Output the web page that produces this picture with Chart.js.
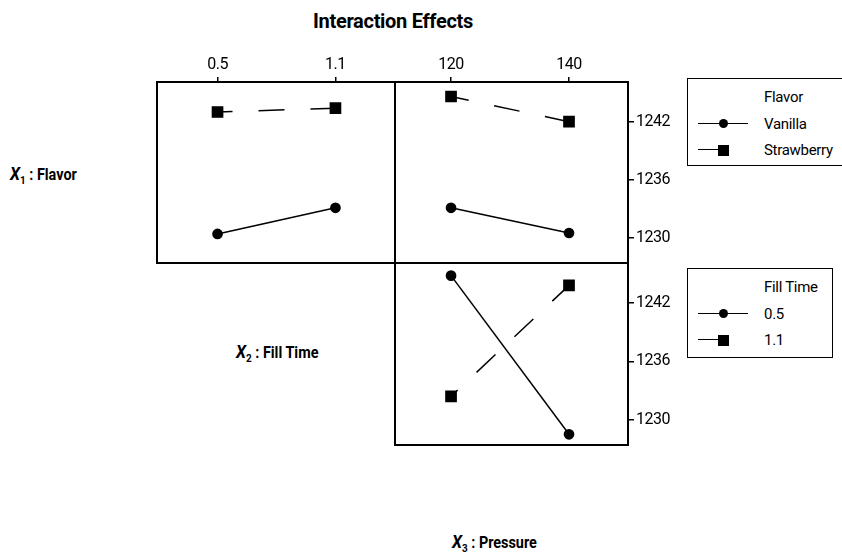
<!DOCTYPE html>
<html>
<head>
<meta charset="utf-8">
<script src="https://cdn.jsdelivr.net/npm/chart.js@4.4.1/dist/chart.umd.min.js"></script>
<style>
  body { margin: 0; background: #fff; font-family: Roboto, 'Liberation Sans', sans-serif; color: #000; }
  #wrap { position: relative; width: 842px; height: 556px; overflow: hidden; }
  canvas { position: absolute; }
  .lbl { position: absolute; font-weight: bold; font-size: 16px; white-space: nowrap; transform: translateY(-50%) scaleX(0.9); transform-origin: left center; }
  .lbl i { font-size: 18px; }
  .lbl sub { font-size: 11px; }
  #title { position: absolute; left: 0; width: 786px; top: 9px; text-align: center; font-weight: bold; font-size: 20px; letter-spacing: -0.3px; }
  .legend { position: absolute; border: 1.5px solid #000; background: #fff; font-size: 15px; letter-spacing: -0.3px; }
  .legend .row { position: absolute; left: 0; height: 20px; white-space: nowrap; }
  .legend .row span { position: absolute; left: 76px; top: 0; line-height: 20px; }
  .legend .ln { position: absolute; top: 9px; height: 0; border-top: 1.5px solid #000; }
  .legend .mk { position: absolute; background: #000; }
</style>
</head>
<body>
<div id="wrap">
  <div id="title">Interaction Effects</div>
  <canvas id="c1" width="240" height="217" style="left:155px;top:48px"></canvas>
  <canvas id="c2" width="285" height="217" style="left:393px;top:48px"></canvas>
  <canvas id="c3" width="285" height="186" style="left:393px;top:261px"></canvas>
  <div class="lbl" style="left:10px;top:175px"><i>X</i><sub>1</sub> : Flavor</div>
  <div class="lbl" style="left:236px;top:353px"><i>X</i><sub>2</sub> : Fill Time</div>
  <div class="lbl" style="left:452px;top:543px"><i>X</i><sub>3</sub> : Pressure</div>
  <div id="leg1" class="legend" style="left:687px;top:78px;width:170px;height:86px"></div>
  <div id="leg2" class="legend" style="left:687px;top:268px;width:144px;height:88px"></div>
</div>
<script>
const fillTimes = [0.5, 1.1];
const pressures = [120, 140];
const flavors = ['Vanilla', 'Strawberry'];
const fillLevels = ['0.5', '1.1'];
const yTicks = [1230, 1236, 1242];

// Panel X1 x X2: flavor lines over fill time
const vanillaByFill = [1230.4, 1233.1];
const strawberryByFill = [1243.0, 1243.4];
// Panel X1 x X3: flavor lines over pressure
const vanillaByPressure = [1233.1, 1230.5];
const strawberryByPressure = [1244.6, 1242.0];
// Panel X2 x X3: fill time lines over pressure
const fill05ByPressure = [1244.8, 1228.5];
const fill11ByPressure = [1232.4, 1243.8];

const FONT = "Roboto, 'Liberation Sans', sans-serif";
const Y_MIN = 1227.4, Y_MAX = 1246.1;

const frame = {
  id: 'frame',
  beforeDraw(chart) {
    chart.ctx.letterSpacing = '-0.5px';
  },
  afterDraw(chart) {
    const { ctx, chartArea: a } = chart;
    ctx.save();
    ctx.lineWidth = 2;
    ctx.strokeStyle = '#000';
    ctx.strokeRect(a.left, a.top, a.right - a.left, a.bottom - a.top);
    ctx.restore();
  }
};

function series(label, xs, ys, solid, dashOffset) {
  return {
    label,
    data: xs.map((x, i) => ({ x, y: ys[i] })),
    borderColor: '#000',
    backgroundColor: '#000',
    borderWidth: 1.5,
    borderDash: solid ? [] : [26, 26],
    borderDashOffset: dashOffset || 0,
    pointStyle: solid ? 'circle' : 'rect',
    pointRadius: solid ? 4.6 : 7.2,
    pointHoverRadius: solid ? 4.6 : 7.2,
    tension: 0
  };
}

function makePanel(id, xs, xMin, xMax, datasets, showX, showY, fmt) {
  return new Chart(document.getElementById(id), {
    type: 'line',
    data: { datasets },
    plugins: [frame],
    options: {
      responsive: false,
      animation: false,
      events: [],
      layout: { autoPadding: false, padding: { left: 2, top: 2, bottom: 2, right: 0 } },
      plugins: { legend: { display: false }, tooltip: { enabled: false } },
      scales: {
        x: {
          type: 'linear',
          position: 'top',
          display: showX,
          min: xMin,
          max: xMax,
          afterBuildTicks: s => { s.ticks = xs.map(v => ({ value: v })); },
          afterFit: s => {
            if (showX) s.height = 32;
            s.paddingLeft = 0; s.paddingRight = 0;
          },
          grid: { drawOnChartArea: false, drawTicks: true, tickLength: 5, color: '#000', lineWidth: 1.5 },
          border: { display: false },
          ticks: { color: '#000', padding: 2, maxRotation: 0, font: { family: FONT, size: 16 }, callback: fmt }
        },
        y: {
          type: 'linear',
          position: 'right',
          display: showY,
          min: Y_MIN,
          max: Y_MAX,
          afterBuildTicks: s => { s.ticks = yTicks.map(v => ({ value: v })); },
          afterFit: s => {
            if (showY) s.width = 50;
            s.paddingTop = 0; s.paddingBottom = 0;
          },
          grid: { drawOnChartArea: false, drawTicks: true, tickLength: 6, color: '#000', lineWidth: 1.5 },
          border: { display: false },
          ticks: { color: '#000', padding: 2, font: { family: FONT, size: 16 }, callback: v => String(v) }
        }
      }
    }
  });
}

makePanel('c1', fillTimes, 0.192, 1.403, [
  series(flavors[0], fillTimes, vanillaByFill, true),
  series(flavors[1], fillTimes, strawberryByFill, false, 11)
], true, false, v => v.toFixed(1));

makePanel('c2', pressures, 110.5, 150, [
  series(flavors[0], pressures, vanillaByPressure, true),
  series(flavors[1], pressures, strawberryByPressure, false, 8)
], true, true, v => String(v));

makePanel('c3', pressures, 110.5, 150, [
  series(fillLevels[0], pressures, fill05ByPressure, true),
  series(fillLevels[1], pressures, fill11ByPressure, false, 17)
], false, true, v => String(v));

function buildLegend(id, title, labels) {
  const box = document.getElementById(id);
  const rows = [title].concat(labels);
  rows.forEach((text, i) => {
    const row = document.createElement('div');
    row.className = 'row';
    row.style.top = (8 + i * 26.5) + 'px';
    row.style.width = '100%';
    row.innerHTML = '<span>' + text + '</span>';
    if (i > 0) {
      const ln = document.createElement('div');
      ln.className = 'ln';
      const mk = document.createElement('div');
      mk.className = 'mk';
      if (i === 1) {
        ln.style.left = '10px'; ln.style.width = '50px';
        mk.style.cssText += 'left:31px;top:5px;width:9px;height:9px;border-radius:50%';
      } else {
        ln.style.left = '10px'; ln.style.width = '22px';
        mk.style.cssText += 'left:30px;top:4.5px;width:11px;height:11px';
      }
      row.appendChild(ln);
      row.appendChild(mk);
    }
    box.appendChild(row);
  });
}

buildLegend('leg1', 'Flavor', flavors);
buildLegend('leg2', 'Fill Time', fillLevels);
</script>
</body>
</html>
